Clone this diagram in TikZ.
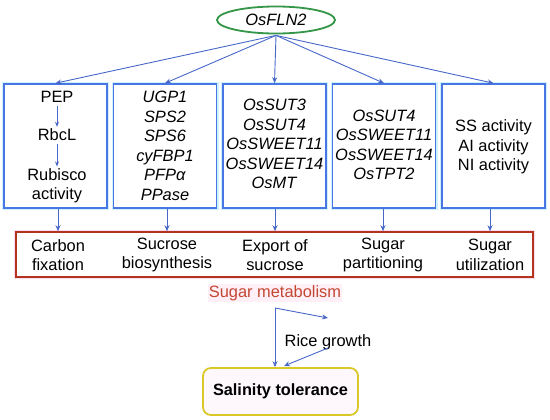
\documentclass[tikz,border=0pt]{standalone}
\usepackage{fontspec}
\setmainfont{Liberation Sans}
\usetikzlibrary{shapes.geometric,arrows.meta}
\definecolor{boxblue}{RGB}{72,118,228}
\definecolor{halo}{RGB}{205,242,252}
\definecolor{arrblue}{RGB}{72,104,200}
\definecolor{fgreen}{RGB}{52,150,72}
\definecolor{dred}{RGB}{178,52,30}
\definecolor{pinkhalo}{RGB}{250,220,238}
\definecolor{smred}{RGB}{196,70,50}
\definecolor{smbg}{RGB}{254,240,246}
\definecolor{ybord}{RGB}{218,200,40}
\definecolor{ybg}{RGB}{254,248,252}
\tikzset{
  fnt/.style={font=\fontsize{16.4}{19.5}\selectfont},
  gbox/.style={draw=boxblue, line width=1.6pt, fill=white, minimum width=103, minimum height=124,
    preaction={draw=halo, line width=4pt}},
  txt/.style={fnt, align=center, inner sep=0pt},
  arr/.style={draw=arrblue, line width=0.9pt, -{Stealth[length=6pt,width=5pt]}},
}
\begin{document}
\begin{tikzpicture}[x=1pt,y=-1pt]
\useasboundingbox (0,0) rectangle (550,420);
% top ellipse
\node[ellipse, draw=fgreen, line width=1.8pt, fill=white, minimum width=118, minimum height=27, inner sep=0pt, fnt] (fln) at (276,20) {\textit{OsFLN2}};
% boxes
\node[gbox] (b1) at (55.5,146) {};
\node[gbox] (b2) at (165,146) {};
\node[gbox] (b3) at (274.5,146) {};
\node[gbox] (b4) at (384,146) {};
\node[gbox] (b5) at (493.5,146) {};
% box 1 contents
\node[txt] (pep) at (57,97) {PEP};
\node[txt] (rbcl) at (57,135) {RbcL};
\node[txt] (rub) at (57,186) {Rubisco\\activity};
\draw[arr, line width=0.8pt, -{Stealth[length=5pt,width=4pt]}] ([yshift=-3pt]pep.south) -- ([yshift=2pt]rbcl.north);
\draw[arr, line width=0.8pt, -{Stealth[length=5pt,width=4pt]}] ([yshift=-3pt]rbcl.south) -- ([yshift=2pt]rub.north);
% other boxes
\node[txt] (t2) at (165,146) {\textit{UGP1}\\\textit{SPS2}\\\textit{SPS6}\\\textit{cyFBP1}\\\textit{PFPα}\\\textit{PPase}};
\node[txt] (t3) at (274.5,144) {\textit{OsSUT3}\\\textit{OsSUT4}\\\textit{OsSWEET11}\\\textit{OsSWEET14}\\\textit{OsMT}};
\node[txt] (t4) at (384,145) {\textit{OsSUT4}\\\textit{OsSWEET11}\\\textit{OsSWEET14}\\\textit{OsTPT2}};
\node[txt] (t5) at (493.5,147) {SS activity\\AI activity\\NI activity};
% red box
\node[draw=dred, line width=1.6pt, fill=white, minimum width=517, minimum height=45,
  preaction={draw=pinkhalo, line width=4.5pt}] (red) at (274.5,254.5) {};
\node[txt] (c1) at (58,255) {Carbon\\fixation};
\node[txt] (c2) at (167,255) {Sucrose\\biosynthesis};
\node[txt] (c3) at (275,255) {Export of\\sucrose};
\node[txt] (c4) at (383,255) {Sugar\\partitioning};
\node[txt] (c5) at (490,255) {Sugar\\utilization};
% arrows from ellipse
\foreach \b in {b1,b2,b3,b4,b5} \draw[arr] ([yshift=-1pt]fln.south) -- (\b.north);
% arrows to red box
\foreach \b/\c in {b1/c1,b2/c2,b3/c3,b4/c4,b5/c5} \draw[arr] (\b.south -| \c) -- (\c |- red.north);
% sugar metabolism
\node[fnt, text=smred, fill=smbg, inner sep=1pt] (sm) at (275,293) {Sugar metabolism};
\coordinate (corner) at (275,308);
\node[fnt, inner sep=1pt] (rice) at (328,342) {Rice growth};
\node[draw=ybord, line width=1.8pt, rounded corners=8pt, fill=ybg, minimum width=155, minimum height=47, font=\fontsize{16.3}{19.5}\selectfont\bfseries] (sal) at (280.5,391.5) {Salinity tolerance};
\draw[arr] (corner) -- (corner |- sal.north);
\draw[arr] (corner) -- (328,318);
\draw[arr] (328,348) -- (284,366);
\end{tikzpicture}
\end{document}
